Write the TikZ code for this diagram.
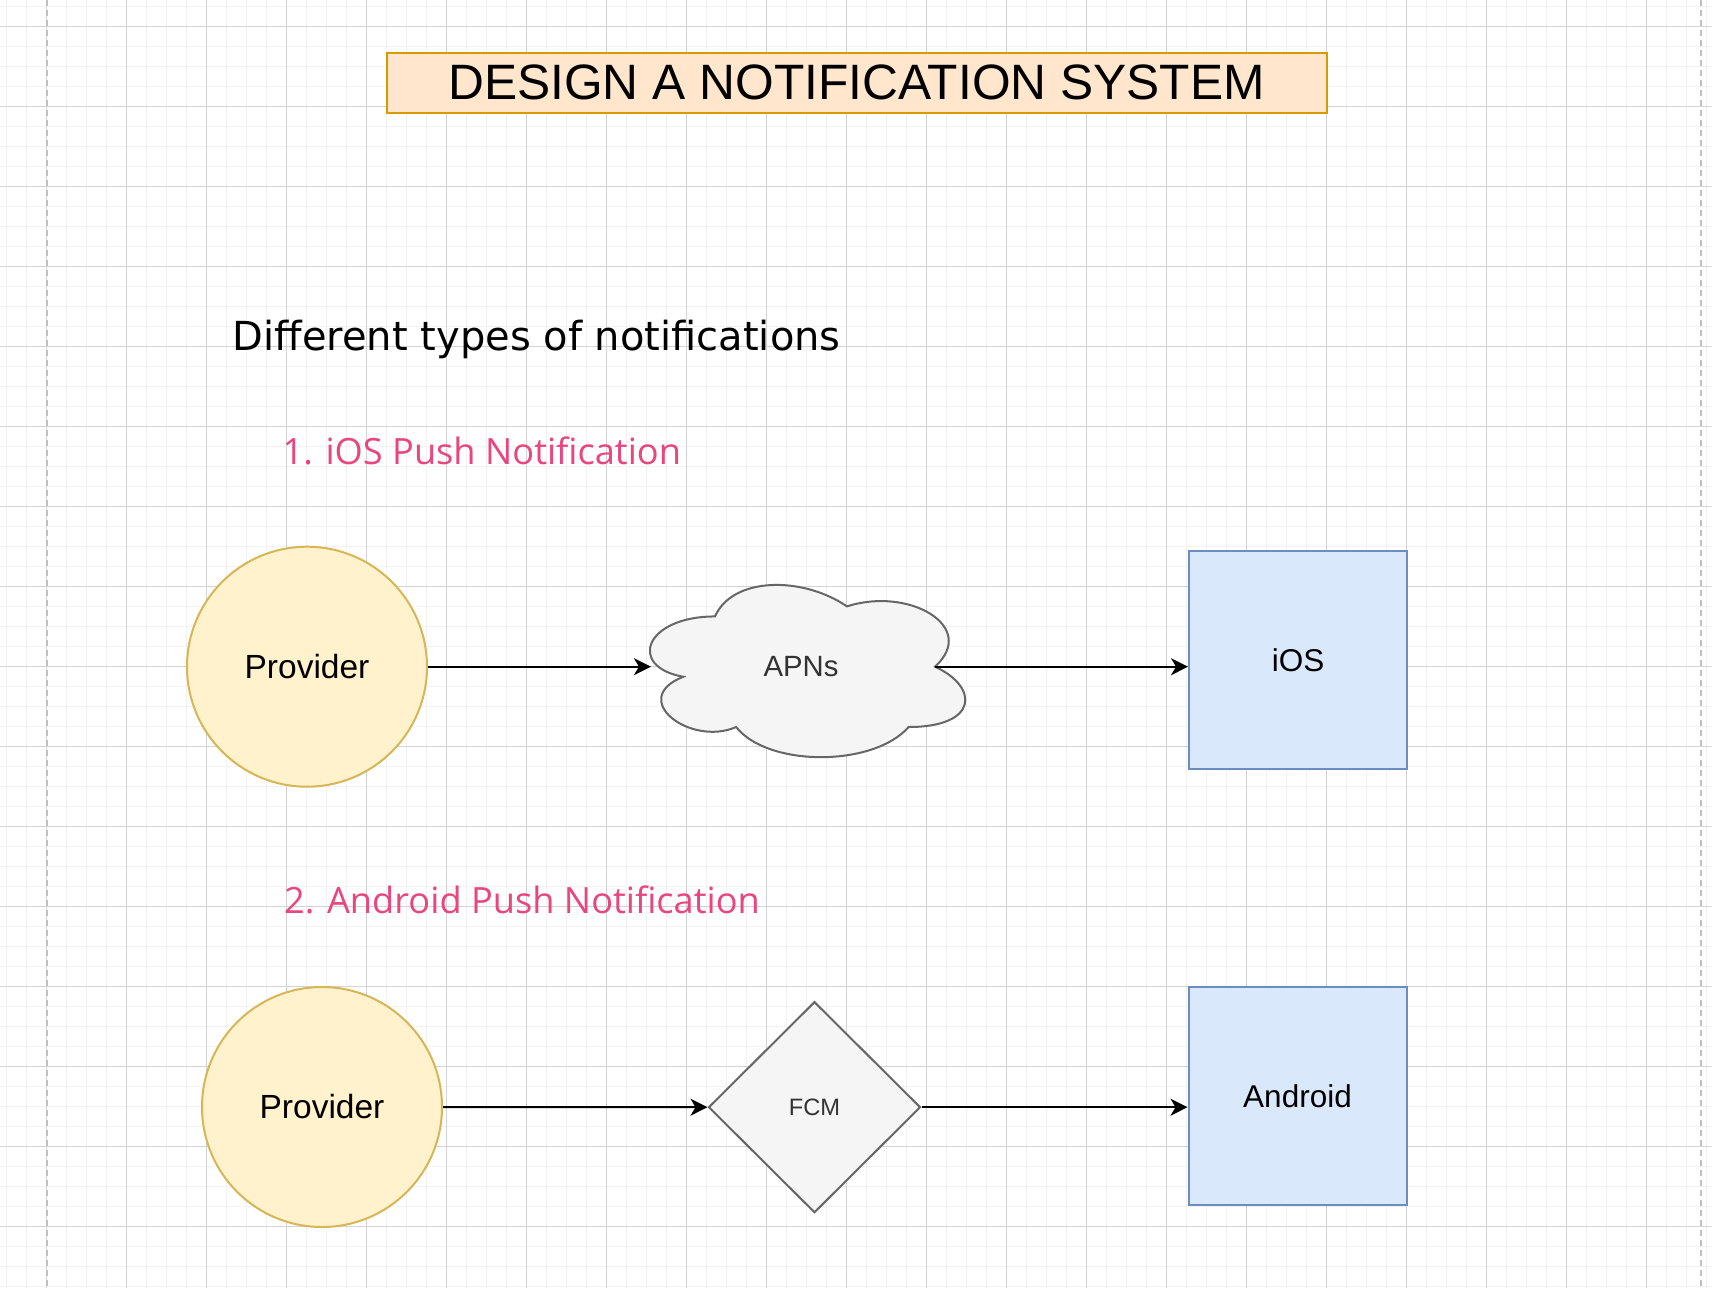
\documentclass[tikz,border=0pt]{standalone}
\usepackage{fontspec}
\setmainfont{Liberation Sans}
\newfontfamily\djvfont{DejaVu Sans}
\newfontfamily\pinkfont{Open Sans}
\usetikzlibrary{arrows.meta,shapes.geometric}
\definecolor{minorgrid}{HTML}{F2F2F2}
\definecolor{majorgrid}{HTML}{D3D3D3}
\definecolor{pagedash}{HTML}{C0C0C0}
\definecolor{titlefill}{HTML}{FFE6CC}
\definecolor{titledraw}{HTML}{D79B00}
\definecolor{provfill}{HTML}{FFF2CC}
\definecolor{provdraw}{HTML}{D6B656}
\definecolor{devfill}{HTML}{DAE8FC}
\definecolor{devdraw}{HTML}{6C8EBF}
\definecolor{svcfill}{HTML}{F5F5F5}
\definecolor{svcdraw}{HTML}{666666}
\definecolor{svctext}{HTML}{333333}
\definecolor{pinktext}{HTML}{E9467F}
\tikzset{
  minorline/.style={draw=minorgrid,line width=1.5pt},
  majorline/.style={draw=majorgrid,line width=1pt},
  pageline/.style={draw=pagedash,line width=1.5pt,dash pattern=on 6pt off 4pt},
  titlebox/.style={draw=titledraw,fill=titlefill,line width=2pt,minimum width=940pt,minimum height=60pt,inner sep=0pt,font=\fontsize{49.7}{60}\selectfont},
  provider/.style={circle,draw=provdraw,fill=provfill,line width=2pt,minimum size=240pt,inner sep=0pt,font=\fontsize{33.5}{40}\selectfont},
  device/.style={rectangle,draw=devdraw,fill=devfill,line width=2pt,minimum size=218pt,inner sep=0pt,font=\fontsize{31.5}{38}\selectfont},
  service/.style={draw=svcdraw,fill=svcfill,line width=2pt,text=svctext},
  heading/.style={anchor=base west,inner sep=0pt,font=\djvfont\fontsize{40}{48}\selectfont},
  subhead/.style={anchor=base west,inner sep=0pt,text=pinktext,font=\pinkfont\fontsize{36.2}{44}\selectfont},
  flow/.style={draw=black,line width=2pt,-{Stealth[length=17pt,width=17pt,inset=5pt]}}
}
\begin{document}
\begin{tikzpicture}[x=1pt,y=-1pt]
\useasboundingbox (0,0) rectangle (1712,1288);
\fill[white] (0,0) rectangle (1712,1288);
% grid
\foreach \i in {0,...,85} \draw[minorline] (6.7+20*\i,0) -- (6.7+20*\i,1288);
\foreach \j in {0,...,64} \draw[minorline] (0,6.3+20*\j) -- (1712,6.3+20*\j);
\foreach \i in {0,...,20} \draw[majorline] (46.7+80*\i,0) -- (46.7+80*\i,1288);
\foreach \j in {0,...,15} \draw[majorline] (0,26.4+80*\j) -- (1712,26.4+80*\j);
\draw[pageline] (47,0) -- (47,1288);
\draw[pageline] (1701,0) -- (1701,1288);

% title
\node[titlebox] (title) at (856.5,82.7) {DESIGN A NOTIFICATION SYSTEM};

% headings
\node[heading] (types) at (232.5,350.7) {Different types of notifications};
\node[subhead] (ioshead) at (282.5,464.5) {1. iOS Push Notification};
\node[subhead] (andhead) at (284,913) {2. Android Push Notification};

% row 1
\node[provider] (prov1) at (307,666.7) {Provider};
\begin{scope}[shift={(627,566.2)},x=352pt,y=-201pt]
\path[service] (0.25,0.25) .. controls (0.05,0.25) and (0,0.5) .. (0.16,0.55)
  .. controls (0,0.66) and (0.18,0.9) .. (0.31,0.8)
  .. controls (0.4,1) and (0.7,1) .. (0.8,0.8)
  .. controls (1,0.8) and (1,0.6) .. (0.875,0.5)
  .. controls (1,0.3) and (0.8,0.1) .. (0.625,0.2)
  .. controls (0.5,0.05) and (0.3,0.05) .. (0.25,0.25) -- cycle;
\coordinate (apnsL) at (0.068,0.5);
\coordinate (apnsR) at (0.875,0.5);
\end{scope}
\node[inner sep=0pt,text=svctext,font=\fontsize{29.3}{35}\selectfont] (apns) at (801,667) {APNs};
\node[device] (ios) at (1298,660) {iOS};
\draw[flow] (prov1.east) -- (prov1.east -| apnsL);
\draw[flow] (apnsR) -- (apnsR -| ios.west);

% row 2
\node[provider] (prov2) at (322,1107) {Provider};
\node[diamond,service,minimum width=212pt,minimum height=211pt,inner sep=0pt,font=\fontsize{23.7}{28}\selectfont] (fcm) at (814.5,1107.2) {FCM};
\node[device] (android) at (1297.5,1096) {Android};
\draw[flow] (prov2.east) -- (fcm.west);
\draw[flow] (fcm.east) -- (fcm.east -| android.west);
\end{tikzpicture}
\end{document}
